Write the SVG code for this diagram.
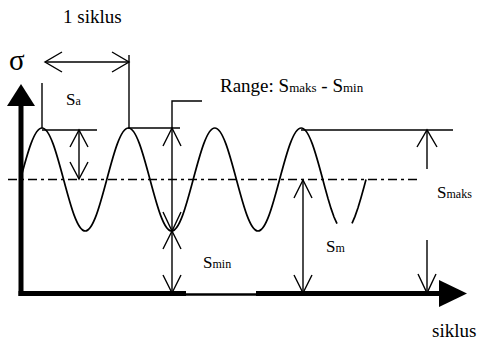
<svg xmlns="http://www.w3.org/2000/svg" width="478" height="345" viewBox="0 0 478 345">
<style>
text{font-family:"Liberation Serif","Times New Roman",serif;fill:#000}
.big{font-size:19px}
.lab{font-size:17px}
.sub{font-size:12px}
.rsub{font-size:13px}
.ln{stroke:#000;stroke-width:1.4;fill:none}
.wave{stroke:#000;stroke-width:1.7;fill:none}
.dd{stroke:#000;stroke-width:1.5;fill:none;stroke-dasharray:9 4 3 4}
.ax{stroke:#000;stroke-width:5;fill:none}
</style>
<rect width="478" height="345" fill="#fff"/>
<g id="mean-line"><line class="dd" x1="8" y1="179.5" x2="417" y2="179.5"/></g>
<g id="wave">
<path class="wave" d="M20.4,179.5 C27.44,153.12 34.18,128 42,128 C49.82,128 56.56,153.12 63.6,179.5 C70.64,205.88 77.38,231 85.2,231 C93.02,231 99.76,205.88 106.8,179.5 C113.84,153.12 120.58,128 128.4,128 C136.22,128 142.96,153.12 150,179.5 C157.04,205.88 163.78,231 171.6,231 C179.42,231 186.16,205.88 193.2,179.5 C200.24,153.12 206.98,128 214.8,128 C222.62,128 229.360,153.12 236.4,179.5 C243.44,205.88 250.18,231 258,231 C265.82,231 272.56,205.88 279.6,179.5 C286.64,153.12 293.38,128 301.2,128 C309.02,128 315.76,153.12 322.8,179.5 L325,187.7 L328,198.5 L331,208.4 L334,217 L337,223.7"/>
<path class="wave" d="M352,223.3 L355,216.4 L358,207.8 L361,197.8 L364,187 L366,179.5"/>
</g>
<g id="axes">
<line class="ax" x1="21" y1="104" x2="21" y2="296"/>
<polygon points="7,106 35,106 21,84" fill="#000"/>
<line class="ax" x1="18.5" y1="293.5" x2="186" y2="293.5"/>
<line stroke="#000" stroke-width="2.5" x1="186" y1="294.5" x2="256" y2="294.5"/>
<line class="ax" x1="256" y1="293.5" x2="441" y2="293.5"/>
<polygon points="439,280 439,307 467,293.5" fill="#000"/>
</g>
<g id="connectors">
<line class="ln" x1="45" y1="62" x2="129" y2="62"/>
<polyline class="ln" points="62,52 45,62 62,72"/>
<polyline class="ln" points="112,52 129,62 112,72"/>
<line class="ln" x1="129" y1="55" x2="129" y2="128"/>
<line class="ln" x1="42" y1="83" x2="42" y2="128"/>
<line class="ln" x1="42" y1="130" x2="97" y2="130"/>
<line class="ln" x1="79" y1="130" x2="79" y2="179"/>
<polyline class="ln" points="70,147 79,130 88,147"/>
<polyline class="ln" points="70,162 79,179 88,162"/>
<line class="ln" x1="128" y1="128" x2="180" y2="128"/>
<polyline class="ln" points="202,101 172,101 172,293"/>
<polyline class="ln" points="163,146 172,128 181,146"/>
<polyline class="ln" points="163,212 172,231 181,212"/>
<polyline class="ln" points="163,249 172,231 181,249"/>
<polyline class="ln" points="163,275 172,293 181,275"/>
<line class="ln" x1="303" y1="180" x2="303" y2="293"/>
<polyline class="ln" points="294,198 303,180 312,198"/>
<polyline class="ln" points="294,275 303,293 312,275"/>
<line class="ln" x1="301" y1="130" x2="453" y2="130"/>
<line class="ln" x1="427" y1="130" x2="427" y2="169"/>
<polyline class="ln" points="417,147 427,130 437,147"/>
<line class="ln" x1="427" y1="240" x2="427" y2="293"/>
<polyline class="ln" points="418,274 427,293 436,274"/>
</g>
<g id="labels">
<text class="big" x="63" y="23">1 siklus</text>
<text x="9" y="70" style="font-size:29px">σ</text>
<text class="lab" x="66" y="105">S<tspan class="sub">a</tspan></text>
<text class="big" x="220" y="92">Range: S<tspan class="rsub">maks</tspan> - S<tspan class="rsub">min</tspan></text>
<text class="lab" x="437" y="198">S<tspan class="sub">maks</tspan></text>
<text class="lab" x="203" y="268">S<tspan class="sub">min</tspan></text>
<text class="lab" x="326" y="252">S<tspan class="sub">m</tspan></text>
<text class="big" x="432" y="337">siklus</text>
</g>
</svg>
